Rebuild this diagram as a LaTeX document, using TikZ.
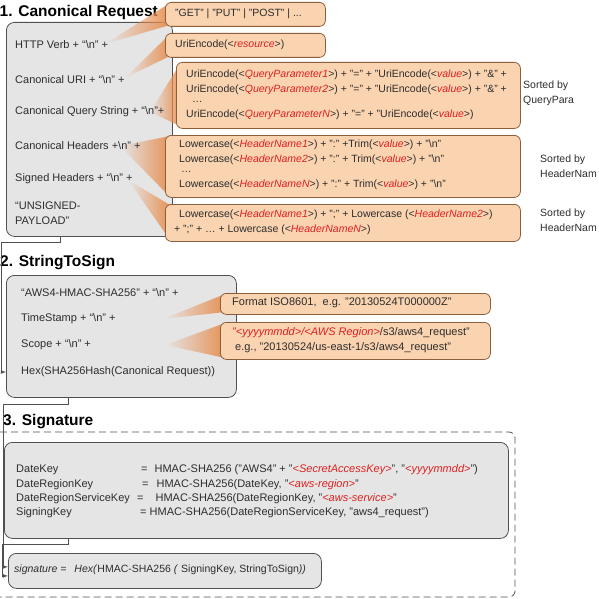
\documentclass[tikz,border=0pt]{standalone}
\usepackage{fontspec}
\setmainfont{Liberation Sans}
\usepackage{tikz}
\usetikzlibrary{arrows,fadings}
\usepackage{xcolor}

\definecolor{boxgray}{RGB}{229,229,229}
\definecolor{boxline}{RGB}{80,80,80}
\definecolor{peach}{RGB}{250,211,176}
\definecolor{peachline}{RGB}{140,95,60}
\definecolor{wedgeorange}{RGB}{230,142,80}
\definecolor{phred}{RGB}{222,32,32}
\definecolor{inkgray}{RGB}{45,45,45}

\tikzfading[name=wedgefade, left color=transparent!100, right color=transparent!5]
\tikzset{
	thin box/.style={line width=0.8pt}
}
\tikzstyle{graybox}=[draw=boxline, fill=boxgray, thin box, rounded corners=8pt, anchor=north west, inner sep=0pt]
\tikzstyle{peachbox}=[draw=peachline, fill=peach, thin box, rounded corners=6pt, anchor=north west, inner sep=0pt]
\tikzstyle{sectiontitle}=[font=\fontsize{15.5}{18}\selectfont\bfseries, anchor=west, inner sep=0pt]
\tikzstyle{boxtext}=[font=\fontsize{11}{15}\selectfont, text=inkgray, anchor=west, inner sep=0pt, align=left]
\tikzstyle{codetext}=[font=\fontsize{10.5}{13}\selectfont, text=inkgray, anchor=west, inner sep=0pt]
\tikzstyle{keytext}=[font=\fontsize{11}{13}\selectfont, text=inkgray, anchor=west, inner sep=0pt]
\tikzstyle{sortnote}=[font=\fontsize{10.5}{15}\selectfont, text=inkgray, anchor=west, inner sep=0pt, align=left]
\newcommand{\ph}[1]{\textcolor{phred}{\textit{#1}}}
\newcommand{\bsn}{\textbackslash n}
\newcommand{\calloutWedge}[3]{
	\fill[wedgeorange, path fading=wedgefade] #1 -- #2 -- #3 -- cycle;
}

\begin{document}
\begin{tikzpicture}[x=1pt, y=-1pt]
	\useasboundingbox (0,0) rectangle (599,599);
	% 1. canonical request
	\node[sectiontitle] (canonTitle) at (-0.5,12) {1. Canonical Request};
	\node[graybox, minimum width=166, minimum height=214] (canonBox) at (6,22) {};
	\calloutWedge{(105,44)}{(170,3)}{(170,25)}
	\calloutWedge{(125,78)}{(170,34)}{(170,56)}
	\calloutWedge{(150,112)}{(180,64)}{(180,126)}
	\calloutWedge{(120,146)}{(170,136)}{(170,197)}
	\calloutWedge{(128,180)}{(170,205)}{(170,240)}
	\node[peachbox, minimum width=160, minimum height=24] (verbBox) at (165,2) {};
	\node[peachbox, minimum width=160, minimum height=24] (uriBox) at (165,33) {};
	\node[peachbox, minimum width=344, minimum height=66] (queryBox) at (176,62) {};
	\node[peachbox, minimum width=355, minimum height=62] (headBox) at (165,135) {};
	\node[peachbox, minimum width=355, minimum height=37] (signedBox) at (165,204) {};
	\node[boxtext] (verbItem) at (15,45) {HTTP Verb + “\bsn” +};
	\node[boxtext] (uriItem) at (15,80) {Canonical URI + “\bsn” +};
	\node[boxtext] (queryItem) at (15,112) {Canonical Query String + “\bsn”+};
	\node[boxtext] (headItem) at (15,146) {Canonical Headers +\bsn” +};
	\node[boxtext] (signedItem) at (15,179) {Signed Headers + “\bsn” +};
	\node[boxtext] (payloadItem) at (15,213) {“UNSIGNED-\\PAYLOAD”};
	\node[codetext] (verbCode) at (175,14) {"GET" | "PUT" | "POST" | ...};
	\node[codetext] (uriCode) at (175,45) {UriEncode(<\ph{resource}>)};
	\node[codetext] (queryCode1) at (186,75) {UriEncode(<\ph{QueryParameter1}>) + "=" + "UriEncode(<\ph{value}>) + "\&" +};
	\node[codetext] (queryCode2) at (186,90) {UriEncode(<\ph{QueryParameter2}>) + "=" + "UriEncode(<\ph{value}>) + "\&" +};
	\node[codetext] (queryDots) at (192,102) {\ldots};
	\node[codetext] (queryCodeN) at (186,115) {UriEncode(<\ph{QueryParameterN}>) + "=" + "UriEncode(<\ph{value}>)};
	\node[codetext] (headCode1) at (179,145) {Lowercase(<\ph{HeaderName1}>) + ":" +Trim(<\ph{value}>) + "\bsn"};
	\node[codetext] (headCode2) at (179,160) {Lowercase(<\ph{HeaderName2}>) + ":" + Trim(<\ph{value}>) + "\bsn"};
	\node[codetext] (headDots) at (181,172) {\ldots};
	\node[codetext] (headCodeN) at (179,185) {Lowercase(<\ph{HeaderNameN}>) + ":" + Trim(<\ph{value}>) + "\bsn"};
	\node[codetext] (signedCode1) at (179,215) {Lowercase(<\ph{HeaderName1}>) + ";" + Lowercase (<\ph{HeaderName2}>)};
	\node[codetext] (signedCode2) at (174,230) {+ ";" + \ldots{} + Lowercase (<\ph{HeaderNameN}>)};
	\node[sortnote] (querySort) at (523,93) {Sorted by\\QueryPara};
	\node[sortnote] (headSort) at (540,166) {Sorted by\\HeaderNam};
	\node[sortnote] (signedSort) at (540,220) {Sorted by\\HeaderNam};
	% 2. string to sign
	\node[sectiontitle] (strTitle) at (0,263) {2. StringToSign};
	\node[graybox, minimum width=230, minimum height=122] (strBox) at (6,275) {};
	\calloutWedge{(163,319)}{(225,294)}{(225,312)}
	\calloutWedge{(165,345)}{(225,323)}{(225,358)}
	\node[peachbox, minimum width=270, minimum height=21] (timeBox) at (220,293) {};
	\node[peachbox, minimum width=270, minimum height=37] (scopeBox) at (220,322) {};
	\node[boxtext] (algoItem) at (21,293) {“AWS4-HMAC-SHA256” + “\bsn” +};
	\node[boxtext] (timeItem) at (21,319) {TimeStamp + “\bsn” +};
	\node[boxtext] (scopeItem) at (21,345) {Scope + “\bsn” +};
	\node[boxtext] (hexItem) at (21,372) {Hex(SHA256Hash(Canonical Request))};
	\node[keytext] (timeCode) at (232,303) {Format ISO8601,\ \ e.g. "20130524T000000Z"};
	\node[keytext] (scopeCode1) at (232,333) {\ph{"<yyyymmdd>/<AWS Region>}/s3/aws4\_request"};
	\node[keytext] (scopeCode2) at (235,348) {e.g., "20130524/us-east-1/s3/aws4\_request"};
	% 3. signature
	\node[sectiontitle] (sigTitle) at (3,422) {3. Signature};
	\draw[boxline, thin box, dash pattern=on 7pt off 4pt, rounded corners=6pt] (0,432) -- (515,432) -- (515,597) -- (0,597);
	\node[graybox, minimum width=504, minimum height=96] (keyBox) at (4,442) {};
	\node[graybox, minimum width=313, minimum height=35] (sigBox) at (8,553) {};
	\node[keytext] (dateKey) at (16,470) {DateKey};
	\node[keytext] (dateVal) at (141,470) {=\hspace{7pt}HMAC-SHA256 ("AWS4" + "\ph{<SecretAccessKey>}", "\ph{<yyyymmdd>}")};
	\node[keytext] (regionKey) at (16,485) {DateRegionKey};
	\node[keytext] (regionVal) at (142,485) {=\hspace{8pt}HMAC-SHA256(DateKey, "\ph{<aws-region>}"};
	\node[keytext] (serviceKey) at (16,499) {DateRegionServiceKey};
	\node[keytext] (serviceVal) at (137,499) {=\hspace{12pt}HMAC-SHA256(DateRegionKey, "\ph{<aws-service>}"};
	\node[keytext] (signingKey) at (16,513) {SigningKey};
	\node[keytext] (signingVal) at (140,513) {= HMAC-SHA256(DateRegionServiceKey, "aws4\_request")};
	\node[codetext] (sigText) at (14,570) {\textit{signature =}\hspace{8pt}\textit{Hex(}HMAC-SHA256 \textit{(} SigningKey, StringToSign\textit{))}};
	% connectors
	\draw[-latex, boxline, thin box] ([xshift=54pt]canonBox.south west) -- ++(0,6) -- ++(-59,0) |- (strBox.west |- hexItem.west);
	\draw[-latex, boxline, thin box] ([xshift=62pt]strBox.south west) -- ++(0,7) -- ++(-65,0) |- ([yshift=4pt]sigBox.west);
	\draw[-latex, boxline, thin box] ([xshift=64pt]keyBox.south west) -- ++(0,6) -- ++(-66,0) |- ([yshift=-5pt]sigBox.west);
\end{tikzpicture}
\end{document}
